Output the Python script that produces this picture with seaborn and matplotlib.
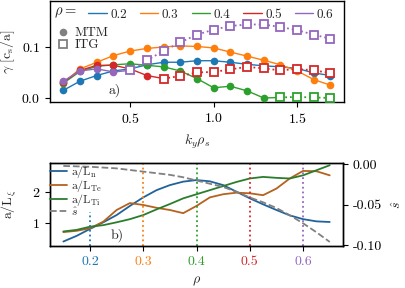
import numpy as np
import pandas as pd
import matplotlib
matplotlib.use('Agg')
import matplotlib.pyplot as plt
from matplotlib.lines import Line2D
import seaborn as sns

# ---- panel a) growth rates vs k_y rho_s ----
ky = [0.1, 0.2, 0.3, 0.4, 0.5, 0.6, 0.7, 0.8, 0.9, 1.0, 1.1, 1.2, 1.3, 1.4, 1.5, 1.6, 1.7]
rho_values = ['0.2', '0.3', '0.4', '0.5', '0.6']
gamma_02 = [0.015, 0.033, 0.044, 0.053, 0.057, 0.065, 0.070, 0.070, 0.073, 0.073, 0.070, 0.066, 0.063, 0.061, 0.058, 0.049, 0.044]
gamma_03 = [0.030, 0.057, 0.070, 0.083, 0.092, 0.097, 0.100, 0.102, 0.101, 0.098, 0.090, 0.082, 0.074, 0.065, 0.053, 0.036, 0.025]
gamma_04 = [0.029, 0.052, 0.062, 0.065, 0.067, 0.064, 0.061, 0.053, 0.038, 0.020, 0.023, 0.014, 0.000, 0.001, 0.002, 0.001, 0.000]
gamma_05 = [0.031, 0.054, 0.064, 0.064, 0.057, 0.044, 0.038, 0.043, 0.050, 0.051, 0.056, 0.061, 0.058, 0.054, 0.057, 0.054, 0.049]
gamma_06 = [0.033, 0.053, 0.057, 0.051, 0.054, 0.074, 0.092, 0.109, 0.124, 0.134, 0.141, 0.144, 0.144, 0.139, 0.133, 0.124, 0.116]
# index of first ITG point (None -> all MTM)
first_itg = [None, None, 13, 6, 4]

# ---- panel b) profiles vs rho ----
rho = [0.15, 0.175, 0.2, 0.225, 0.25, 0.275, 0.3, 0.325, 0.35, 0.375, 0.4,
       0.425, 0.45, 0.475, 0.5, 0.525, 0.55, 0.575, 0.6, 0.625, 0.65]
aLn = [0.42, 0.60, 0.82, 1.03, 1.26, 1.55, 1.82, 2.05, 2.21, 2.32, 2.37,
       2.33, 2.21, 2.00, 1.79, 1.60, 1.42, 1.25, 1.13, 1.06, 1.04]
aLTe = [0.72, 0.76, 0.84, 1.05, 1.42, 1.64, 1.58, 1.49, 1.42, 1.32, 1.55,
        1.82, 1.92, 1.97, 1.95, 1.89, 2.10, 2.42, 2.66, 2.65, 2.52]
aLTi = [0.74, 0.79, 0.89, 0.94, 1.03, 1.13, 1.26, 1.44, 1.61, 1.79, 1.92,
        2.05, 2.18, 2.31, 2.42, 2.47, 2.44, 2.42, 2.52, 2.68, 2.84]
shat = [-0.002, -0.0025, -0.003, -0.004, -0.005, -0.007, -0.009, -0.011, -0.013, -0.016, -0.020,
        -0.024, -0.028, -0.034, -0.041, -0.047, -0.054, -0.063, -0.073, -0.084, -0.096]
rho_marks = [0.2, 0.3, 0.4, 0.5, 0.6]

sns.set_style('ticks')
plt.rcParams['font.family'] = ['cmr10', 'DejaVu Serif']
plt.rcParams['mathtext.fontset'] = 'cm'
plt.rcParams['axes.unicode_minus'] = False
plt.rcParams['axes.formatter.use_mathtext'] = True
plt.rcParams['font.size'] = 10
plt.rcParams['axes.labelsize'] = 10
plt.rcParams['xtick.labelsize'] = 10
plt.rcParams['ytick.labelsize'] = 10
plt.rcParams['axes.edgecolor'] = 'black'
plt.rcParams['xtick.color'] = 'black'
plt.rcParams['ytick.color'] = 'black'
plt.rcParams['axes.linewidth'] = 1.0

colors = sns.color_palette('tab10')[:5]
fig = plt.figure(figsize=(4.05, 2.88), dpi=100)
ax1 = fig.add_axes([0.1235, 0.646, 0.7255, 0.3505])
ax2 = fig.add_axes([0.1235, 0.146, 0.7235, 0.289])

series = [gamma_02, gamma_03, gamma_04, gamma_05, gamma_06]
for g, c, fi in zip(series, colors, first_itg):
    df = pd.DataFrame({'ky': ky, 'gamma': g})
    if fi is None:
        mtm = df
        itg = None
        solid = df
    else:
        mtm = df.iloc[:fi]
        itg = df.iloc[fi:]
        solid = df.iloc[:fi + 1]
    sns.lineplot(data=solid, x='ky', y='gamma', ax=ax1, color=c, lw=1.0, zorder=2)
    sns.lineplot(data=mtm, x='ky', y='gamma', ax=ax1, color=c, lw=0, marker='o',
                 markersize=5.5, markeredgewidth=0, zorder=3)
    if itg is not None:
        sns.lineplot(data=itg, x='ky', y='gamma', ax=ax1, color=c, lw=1.3, ls=':',
                     marker='s', markersize=5.5, mfc='white', mec=c, markeredgewidth=1.3, zorder=3)

ax1.set_ylim(-0.0078, 0.19)
ax1.set_xticks([0.5, 1.0, 1.5])
ax1.set_yticks([0.0, 0.1])
ax1.set_xlabel(r'$k_y\rho_s$', labelpad=5)
ax1.set_ylabel(r'$\gamma\ [\mathrm{c_s/a}]$')
ax1.yaxis.set_label_coords(-0.112, 0.5)
ax1.text(0.2, 0.12, 'a)', transform=ax1.transAxes, va='center', fontsize=10)

# legends for panel a
rho_handles = [Line2D([], [], color=c, lw=1.0) for c in colors]
leg1 = ax1.legend(rho_handles, rho_values, ncol=5, loc='upper left', bbox_to_anchor=(0.09, 1.04),
                  frameon=False, handlelength=1.4, handletextpad=0.25, columnspacing=1.0, fontsize=9.5)
ax1.add_artist(leg1)
ax1.text(0.015, 0.885, r'$\rho=$', transform=ax1.transAxes, va='center', fontsize=10.5)
type_handles = [Line2D([], [], color='gray', lw=0, marker='o', markersize=5.5, markeredgewidth=0),
                Line2D([], [], color='gray', lw=0, marker='s', markersize=5.5, mfc='white', mec='gray',
                       markeredgewidth=1.3)]
ax1.legend(type_handles, ['MTM', 'ITG'], loc='upper left', bbox_to_anchor=(-0.015, 0.86),
           frameon=False, handlelength=0.9, handletextpad=0.4, labelspacing=0.0, fontsize=9.5)

# ---- panel b ----
prof = pd.DataFrame({'rho': rho, 'aLn': aLn, 'aLTe': aLTe, 'aLTi': aLTi, 'shat': shat})
c_n, c_te, c_ti = '#21629b', '#b5621e', '#2b7d2d'
sns.lineplot(data=prof, x='rho', y='aLn', ax=ax2, color=c_n, lw=1.3, label=r'$\mathrm{a/L_n}$')
sns.lineplot(data=prof, x='rho', y='aLTe', ax=ax2, color=c_te, lw=1.3, label=r'$\mathrm{a/L_{Te}}$')
sns.lineplot(data=prof, x='rho', y='aLTi', ax=ax2, color=c_ti, lw=1.3, label=r'$\mathrm{a/L_{Ti}}$')
ax2.set_ylim(0.28, 2.92)
for i, (r, c) in enumerate(zip(rho_marks, colors)):
    ax2.axvline(r, ymin=0, ymax=0.41 if i == 0 else 1, color=c, ls=':', lw=1.3)

ax3 = ax2.twinx()
sns.lineplot(data=prof, x='rho', y='shat', ax=ax3, color='gray', lw=1.3, ls='--', label=r'$\hat{s}$')
ax3.set_ylim(-0.101, 0.002)
ax3.set_yticks([0.0, -0.05, -0.10])
ax3.set_yticklabels(['0.00', '-0.05', '-0.10'])
ax3.set_ylabel(r'$\hat{s}$')
ax3.yaxis.set_label_coords(1.16, 0.5)
ax3.spines['right'].set_visible(True)

ax2.set_xticks(rho_marks)
ax2.set_xticklabels(['0.2', '0.3', '0.4', '0.5', '0.6'])
for lbl, c in zip(ax2.get_xticklabels(), colors):
    lbl.set_color(c)
ax2.set_yticks([1, 2])
ax2.set_xlabel(r'$\rho$', labelpad=5)
ax2.set_ylabel(r'$\mathrm{a/L_\xi}$')
ax2.yaxis.set_label_coords(-0.105, 0.5)
ax2.text(0.205, 0.13, 'b)', transform=ax2.transAxes, va='center', fontsize=10)

h1, l1 = ax2.get_legend_handles_labels()
h2, l2 = ax3.get_legend_handles_labels()
ax2.get_legend().remove()
ax3.legend(h1 + h2, l1 + l2, loc='upper left', bbox_to_anchor=(0.0, 0.98), frameon=False,
           handlelength=1.4, handletextpad=0.4, labelspacing=-0.2, fontsize=8.5, borderaxespad=0,
           borderpad=0)
for spine in ['top', 'right']:
    ax1.spines[spine].set_visible(True)
    ax2.spines[spine].set_visible(True)
ax3.spines['top'].set_visible(True)

fig.savefig('out.png', dpi=100)
